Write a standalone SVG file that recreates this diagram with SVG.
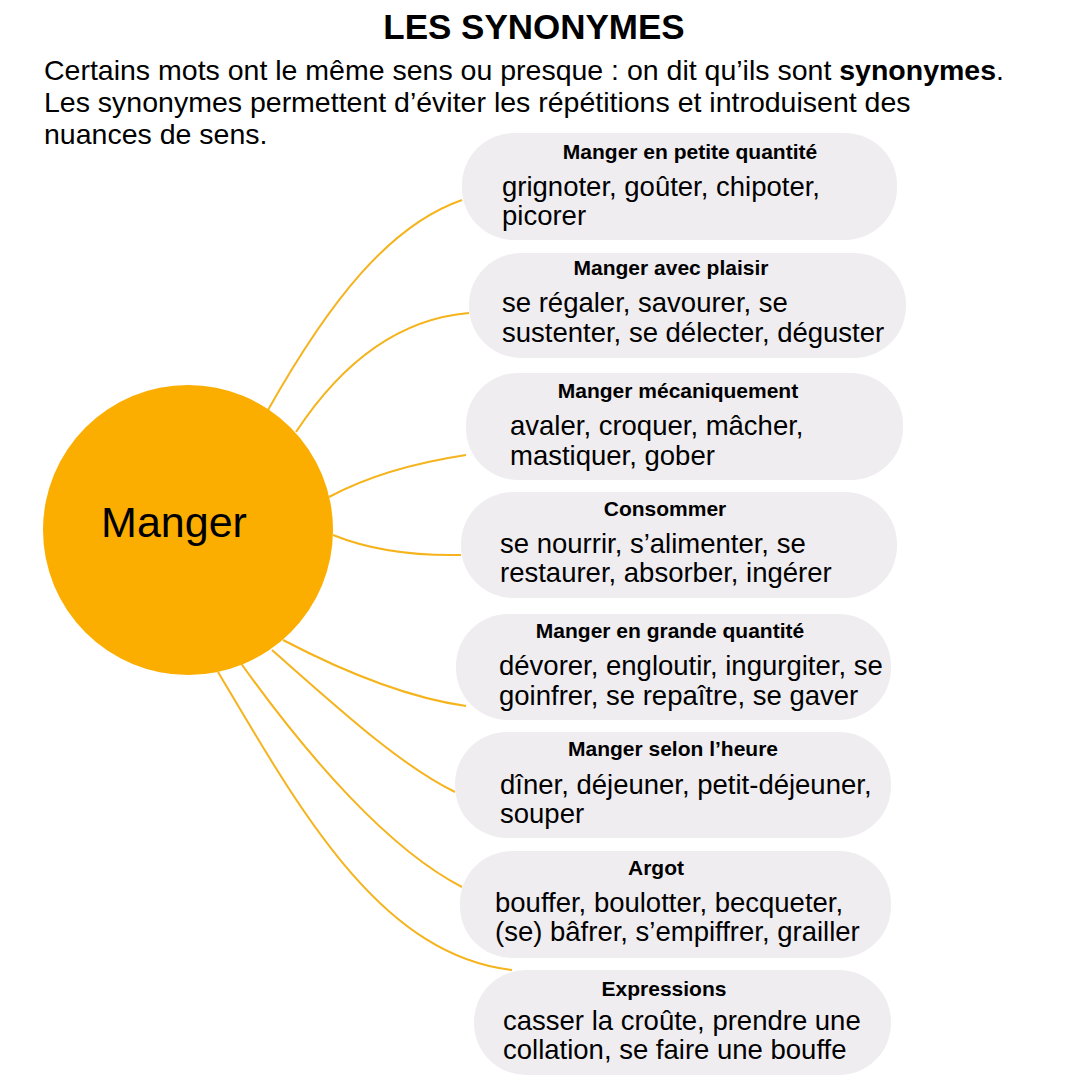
<svg xmlns="http://www.w3.org/2000/svg" width="1080" height="1080" viewBox="0 0 1080 1080">
<style>
text{font-family:"Liberation Sans",Arial,sans-serif;fill:#000}
.box{fill:#efedf0}
.h{font-weight:bold;font-size:21px;text-anchor:middle}
.t{font-size:27.5px}
.c{fill:none;stroke:#f5b31c;stroke-width:2}
</style>
<rect width="1080" height="1080" fill="#fff"/>
<text x="534" y="39" font-size="35" font-weight="bold" text-anchor="middle">LES SYNONYMES</text>
<text x="44" y="80" font-size="28.5">Certains mots ont le même sens ou presque : on dit qu’ils sont <tspan font-weight="bold">synonymes</tspan>.</text>
<text x="44" y="112" font-size="28.5">Les synonymes permettent d’éviter les répétitions et introduisent des</text>
<text x="44" y="144" font-size="28.5">nuances de sens.</text>
<g id="connectors">
<path class="c" d="M268,410 C330,300 390,225 462,200"/>
<path class="c" d="M296,432 C350,350 410,318 469,313"/>
<path class="c" d="M329,497 C370,475 420,462 466,455"/>
<path class="c" d="M333,535 C370,550 410,556 461,555"/>
<path class="c" d="M283,640 C350,675 410,698 466,706"/>
<path class="c" d="M272,650 C340,710 400,765 455,792"/>
<path class="c" d="M240,662 C310,760 390,850 462,887"/>
<path class="c" d="M218,672 C300,810 380,955 512,970"/>
</g>
<g id="manger"><circle cx="188" cy="530" r="145" fill="#fbad00"/><text x="174" y="537" font-size="43" text-anchor="middle">Manger</text></g>
<g id="n1"><rect class="box" x="462" y="133" width="435" height="107" rx="52"/><text class="h" x="690" y="159">Manger en petite quantité</text><text class="t" x="502" y="196">grignoter, goûter, chipoter,</text><text class="t" x="502" y="225">picorer</text></g>
<g id="n2"><rect class="box" x="469" y="253" width="437" height="105" rx="52"/><text class="h" x="671" y="275">Manger avec plaisir</text><text class="t" x="502" y="312">se régaler, savourer, se</text><text class="t" x="502" y="342">sustenter, se délecter, déguster</text></g>
<g id="n3"><rect class="box" x="466" y="373" width="437" height="107" rx="52"/><text class="h" x="678" y="398">Manger mécaniquement</text><text class="t" x="510" y="435">avaler, croquer, mâcher,</text><text class="t" x="510" y="465">mastiquer, gober</text></g>
<g id="n4"><rect class="box" x="461" y="492" width="436" height="106" rx="52"/><text class="h" x="665" y="516">Consommer</text><text class="t" x="500" y="553">se nourrir, s’alimenter, se</text><text class="t" x="500" y="582">restaurer, absorber, ingérer</text></g>
<g id="n5"><rect class="box" x="456" y="614" width="435" height="106" rx="52"/><text class="h" x="670" y="638">Manger en grande quantité</text><text class="t" x="499" y="675">dévorer, engloutir, ingurgiter, se</text><text class="t" x="499" y="705">goinfrer, se repaître, se gaver</text></g>
<g id="n6"><rect class="box" x="455" y="732" width="436" height="106" rx="52"/><text class="h" x="673" y="756">Manger selon l’heure</text><text class="t" x="500" y="794">dîner, déjeuner, petit-déjeuner,</text><text class="t" x="500" y="823">souper</text></g>
<g id="n7"><rect class="box" x="460" y="851" width="431" height="107" rx="52"/><text class="h" x="656" y="875">Argot</text><text class="t" x="495" y="912">bouffer, boulotter, becqueter,</text><text class="t" x="495" y="941">(se) bâfrer, s’empiffrer, grailler</text></g>
<g id="n8"><rect class="box" x="474" y="970" width="417" height="105" rx="52"/><text class="h" x="664" y="996">Expressions</text><text class="t" x="503" y="1030">casser la croûte, prendre une</text><text class="t" x="503" y="1059">collation, se faire une bouffe</text></g>
</svg>
